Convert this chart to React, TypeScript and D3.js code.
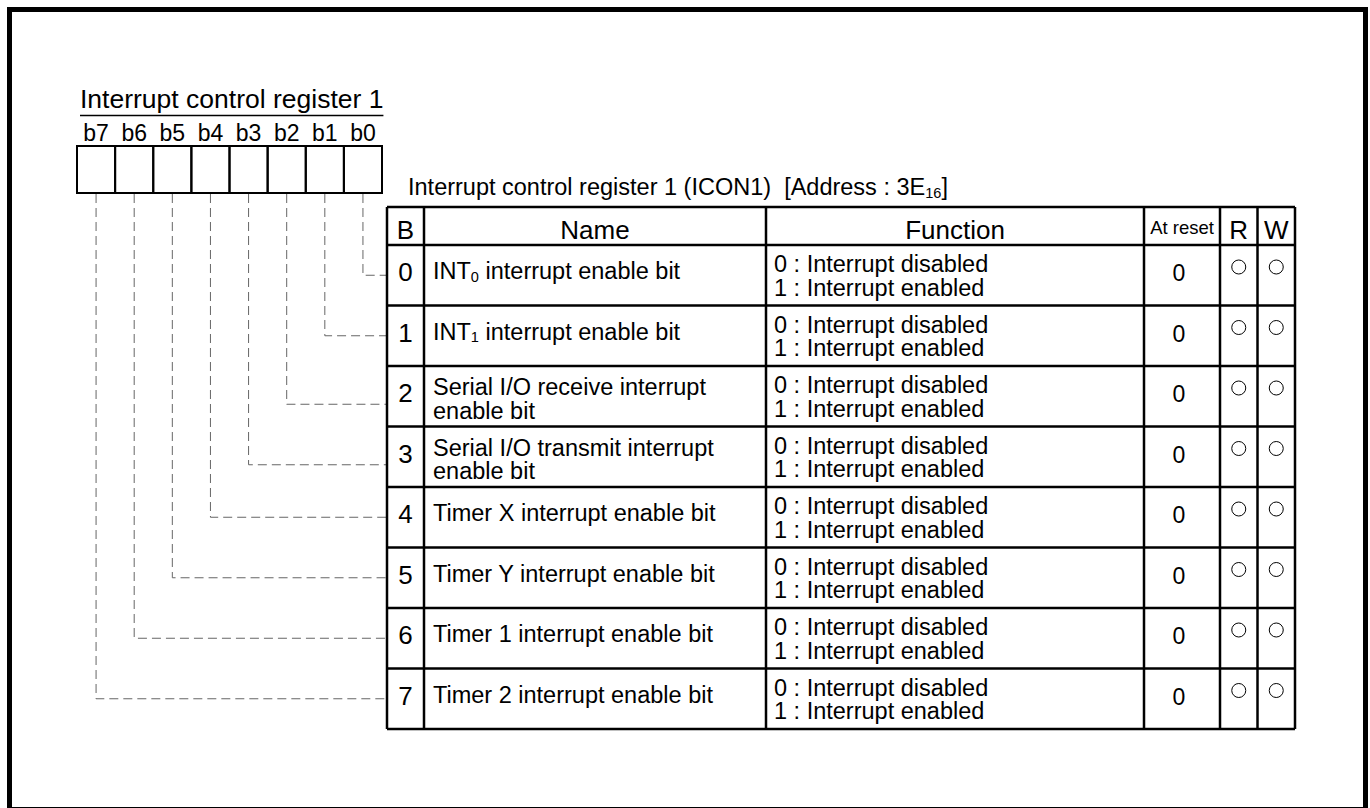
import React, { useEffect, useRef } from "react";
import * as d3 from "d3";

// canvas
const W = 1370,
  H = 808;
const FONT = "'Liberation Sans', Arial, Helvetica, sans-serif";

// register picture
const registerTitle = "Interrupt control register 1";
const bitLabels = ["b7", "b6", "b5", "b4", "b3", "b2", "b1", "b0"];

// table contents ("_n" marks a subscript)
const tableTitle = "Interrupt control register 1 (ICON1)  [Address : 3E_16]";
const headers = ["B", "Name", "Function", "At reset", "R", "W"];
const bitNumbers = ["0", "1", "2", "3", "4", "5", "6", "7"];
const bitNames = [
  ["INT_0 interrupt enable bit"],
  ["INT_1 interrupt enable bit"],
  ["Serial I/O receive interrupt", "enable bit"],
  ["Serial I/O transmit interrupt", "enable bit"],
  ["Timer X interrupt enable bit"],
  ["Timer Y interrupt enable bit"],
  ["Timer 1 interrupt enable bit"],
  ["Timer 2 interrupt enable bit"]
];
const functions = bitNumbers.map(() => [
  "0 : Interrupt disabled",
  "1 : Interrupt enabled"
]);
const resetValues = ["0", "0", "0", "0", "0", "0", "0", "0"];
const readable = [true, true, true, true, true, true, true, true];
const writable = [true, true, true, true, true, true, true, true];

// layout
const reg = { left: 77, right: 382, top: 146, bottom: 193 };
const table = { top: 207, headBottom: 245, bottom: 729 };
const colEdges = [387, 424, 766, 1144, 1220, 1257.5, 1295];

// append text with "_n" subscripts as tspans
function richText(sel, str, size) {
  const parts = str.split(/_(\d+)/);
  parts.forEach((p, i) => {
    if (!p) return;
    if (i % 2 === 1) {
      sel
        .append("tspan")
        .attr("font-size", size * 0.62)
        .attr("dy", size * 0.12)
        .text(p);
    } else {
      sel
        .append("tspan")
        .attr("dy", i > 0 ? -size * 0.12 : 0)
        .text(p);
    }
  });
}

export default function App() {
  const ref = useRef(null);

  useEffect(() => {
    const svg = d3.select(ref.current);
    svg.selectAll("*").remove();

    svg
      .append("rect")
      .attr("width", W)
      .attr("height", H)
      .attr("fill", "#fff");

    // outer frame
    svg
      .append("rect")
      .attr("x", 9.5)
      .attr("y", 9.5)
      .attr("width", 1356)
      .attr("height", 800)
      .attr("fill", "none")
      .attr("stroke", "#000")
      .attr("stroke-width", 5);

    const g = svg.append("g").attr("font-family", FONT).attr("fill", "#000");

    // register title + underline
    const title = g
      .append("text")
      .attr("x", 80)
      .attr("y", 108)
      .attr("font-size", 26.5)
      .text(registerTitle);
    const tw = title.node().getComputedTextLength();
    g.append("line")
      .attr("x1", 80)
      .attr("x2", 80 + tw)
      .attr("y1", 115.5)
      .attr("y2", 115.5)
      .attr("stroke", "#000")
      .attr("stroke-width", 1.5);

    // bit boxes
    const x = d3
      .scaleBand()
      .domain(bitLabels)
      .range([reg.left, reg.right]);

    g.selectAll(".bitlabel")
      .data(bitLabels)
      .enter()
      .append("text")
      .attr("class", "bitlabel")
      .attr("x", d => x(d) + x.bandwidth() / 2)
      .attr("y", 141)
      .attr("font-size", 23)
      .attr("text-anchor", "middle")
      .text(d => d);

    g.selectAll(".bitbox")
      .data(bitLabels)
      .enter()
      .append("rect")
      .attr("class", "bitbox")
      .attr("x", d => x(d))
      .attr("y", reg.top)
      .attr("width", x.bandwidth())
      .attr("height", reg.bottom - reg.top)
      .attr("fill", "none")
      .attr("stroke", "#000")
      .attr("stroke-width", 2);

    // rows
    const y = d3
      .scaleBand()
      .domain(bitNumbers)
      .range([table.headBottom, table.bottom]);
    const rh = y.bandwidth();

    // dashed leaders from each bit box to its row
    const leader = d3
      .line()
      .x(d => d[0])
      .y(d => d[1]);
    g.selectAll(".leader")
      .data(bitNumbers)
      .enter()
      .append("path")
      .attr("class", "leader")
      .attr("d", (d, i) => {
        const cx = x(bitLabels[7 - i]) + x.bandwidth() / 2;
        const ly = y(d) + rh / 2 + (bitNames[i].length > 1 ? 8 : 0);
        return leader([
          [cx, reg.bottom + 1],
          [cx, ly],
          [colEdges[0], ly]
        ]);
      })
      .attr("fill", "none")
      .attr("stroke", "#666")
      .attr("stroke-width", 1)
      .attr("stroke-dasharray", "9,5");

    // table title
    const tt = g
      .append("text")
      .attr("x", 408)
      .attr("y", 195)
      .attr("font-size", 23.5)
      .style("white-space", "pre");
    richText(tt, tableTitle, 23.5);

    // header
    const colMid = i => (colEdges[i] + colEdges[i + 1]) / 2;
    g.selectAll(".header")
      .data(headers)
      .enter()
      .append("text")
      .attr("class", "header")
      .attr("x", (d, i) => colMid(i))
      .attr("y", (d, i) => (i === 3 ? 234 : 239))
      .attr("font-size", (d, i) => (i === 3 ? 18.5 : 26))
      .attr("text-anchor", "middle")
      .text(d => d);

    const row = g
      .selectAll(".row")
      .data(bitNumbers)
      .enter()
      .append("g")
      .attr("class", "row")
      .attr("transform", d => `translate(0, ${y(d)})`);

    row
      .append("text")
      .attr("x", colMid(0))
      .attr("y", 36)
      .attr("font-size", 26)
      .attr("text-anchor", "middle")
      .text(d => d);

    row.each(function (d, i) {
      const r = d3.select(this);
      const lines = bitNames[i];
      const base = lines.length > 1 ? 29 : 34;
      lines.forEach((ln, k) => {
        const t = r
          .append("text")
          .attr("x", 433)
          .attr("y", base + k * 23.5)
          .attr("font-size", 23.5);
        richText(t, ln, 23.5);
      });
      functions[i].forEach((ln, k) => {
        r.append("text")
          .attr("x", 774)
          .attr("y", 27 + k * 23.5)
          .attr("font-size", 23.5)
          .text(ln);
      });
      r.append("text")
        .attr("x", colMid(3) - 3)
        .attr("y", 36)
        .attr("font-size", 23)
        .attr("text-anchor", "middle")
        .text(resetValues[i]);
      [readable[i], writable[i]].forEach((on, k) => {
        if (!on) return;
        r.append("circle")
          .attr("cx", colMid(4 + k))
          .attr("cy", 22)
          .attr("r", 7)
          .attr("fill", "none")
          .attr("stroke", "#000")
          .attr("stroke-width", 1);
      });
    });

    // grid lines
    const hLines = [table.top, table.headBottom, ...bitNumbers.map(d => y(d) + rh)];
    g.selectAll(".hline")
      .data(hLines)
      .enter()
      .append("line")
      .attr("class", "hline")
      .attr("x1", colEdges[0])
      .attr("x2", colEdges[colEdges.length - 1])
      .attr("y1", d => d)
      .attr("y2", d => d)
      .attr("stroke", "#000")
      .attr("stroke-width", 2.5);

    g.selectAll(".vline")
      .data(colEdges)
      .enter()
      .append("line")
      .attr("class", "vline")
      .attr("x1", d => d)
      .attr("x2", d => d)
      .attr("y1", table.top)
      .attr("y2", table.bottom)
      .attr("stroke", "#000")
      .attr("stroke-width", 2.5);
  }, []);

  return (
    <svg
      ref={ref}
      width={W}
      height={H}
      style={{ position: "absolute", left: 0, top: 0, display: "block" }}
    />
  );
}
